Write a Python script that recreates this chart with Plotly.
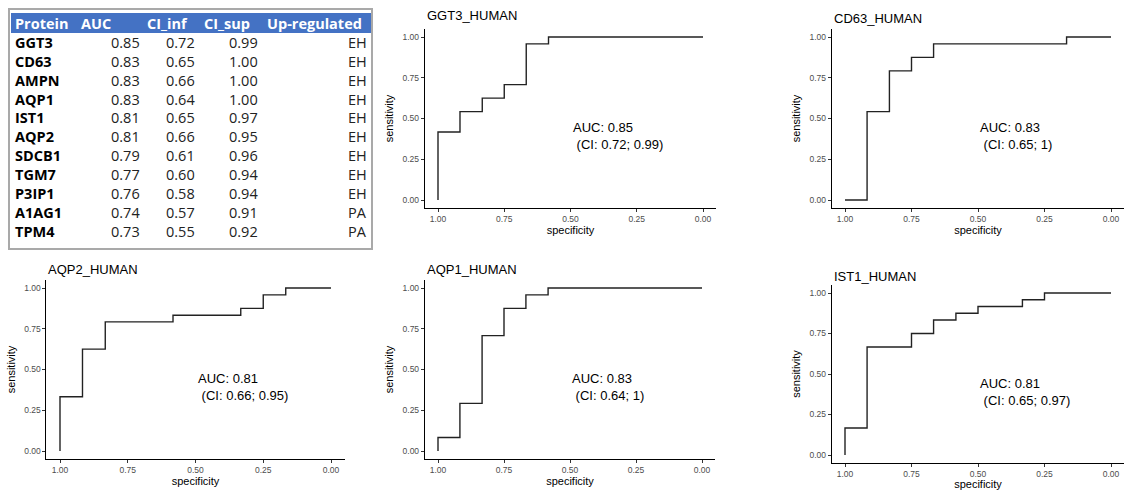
import plotly.graph_objects as go

W, H = 1128, 490

# ---------------- table data ----------------
tbl_header = ["Protein", "AUC", "CI_inf", "CI_sup", "Up-regulated"]
tbl_protein = ["GGT3", "CD63", "AMPN", "AQP1", "IST1", "AQP2", "SDCB1", "TGM7", "P3IP1", "A1AG1", "TPM4"]
tbl_auc = ["0.85", "0.83", "0.83", "0.83", "0.81", "0.81", "0.79", "0.77", "0.76", "0.74", "0.73"]
tbl_ci_inf = ["0.72", "0.65", "0.66", "0.64", "0.65", "0.66", "0.61", "0.60", "0.58", "0.57", "0.55"]
tbl_ci_sup = ["0.99", "1.00", "1.00", "1.00", "0.97", "0.95", "0.96", "0.94", "0.94", "0.91", "0.92"]
tbl_up = ["EH", "EH", "EH", "EH", "EH", "EH", "EH", "EH", "EH", "PA", "PA"]

# ---------------- ROC data (corner points, step 'hv') ----------------
ggt3_spec = [1.0, 1.0, 0.917, 0.833, 0.75, 0.667, 0.583, 0.0]
ggt3_sens = [0.0, 0.417, 0.542, 0.625, 0.708, 0.958, 1.0, 1.0]
cd63_spec = [1.0, 0.917, 0.833, 0.75, 0.667, 0.167, 0.0]
cd63_sens = [0.0, 0.542, 0.792, 0.875, 0.958, 1.0, 1.0]
aqp2_spec = [1.0, 1.0, 0.917, 0.833, 0.583, 0.333, 0.25, 0.167, 0.0]
aqp2_sens = [0.0, 0.333, 0.625, 0.792, 0.833, 0.875, 0.958, 1.0, 1.0]
aqp1_spec = [1.0, 1.0, 0.917, 0.833, 0.75, 0.667, 0.583, 0.0]
aqp1_sens = [0.0, 0.083, 0.292, 0.708, 0.875, 0.958, 1.0, 1.0]
ist1_spec = [1.0, 1.0, 0.917, 0.75, 0.667, 0.583, 0.5, 0.333, 0.25, 0.0]
ist1_sens = [0.0, 0.167, 0.667, 0.75, 0.833, 0.875, 0.917, 0.958, 1.0, 1.0]

panel_names = ["GGT3_HUMAN", "CD63_HUMAN", "AQP2_HUMAN", "AQP1_HUMAN", "IST1_HUMAN"]
panel_auc = ["0.85", "0.83", "0.81", "0.83", "0.81"]
panel_ci = ["0.72; 0.99", "0.65; 1", "0.66; 0.95", "0.64; 1", "0.65; 0.97"]
tick_vals = [0.0, 0.25, 0.5, 0.75, 1.0]
tick_text = ["0.00", "0.25", "0.50", "0.75", "1.00"]

specs = [ggt3_spec, cd63_spec, aqp2_spec, aqp1_spec, ist1_spec]
senss = [ggt3_sens, cd63_sens, aqp2_sens, aqp1_sens, ist1_sens]

# pixel geometry: (x at spec=1, x at spec=0, y at sens=1, y at sens=0, title y)
geom = [
    (438, 703, 37, 200, 15),
    (845, 1111, 37, 200, 18),
    (60, 331, 288, 451, 269),
    (438, 702, 288, 451, 269),
    (845, 1111, 293, 455, 276),
]


def px(x):
    return x / W


def py(y):
    return 1 - y / H


fig = go.Figure()
layout = dict(
    width=W, height=H,
    margin=dict(l=0, r=0, t=0, b=0),
    paper_bgcolor="white", plot_bgcolor="white",
    showlegend=False,
    font=dict(family="Liberation Sans, Arial, sans-serif", color="#000000"),
)
annotations = []
shapes = []

for i, (xs, ys) in enumerate(zip(specs, senss)):
    n = i + 1
    sfx = "" if n == 1 else str(n)
    x1, x0, y1, y0, ty = geom[i]
    dx = (x0 - x1) * 0.05
    dy = (y0 - y1) * 0.05
    fig.add_trace(go.Scatter(
        x=xs, y=ys, mode="lines", line=dict(color="#222222", width=1.4, shape="hv"),
        xaxis="x" + sfx, yaxis="y" + sfx, hoverinfo="skip"))
    common = dict(
        showgrid=False, zeroline=False, showline=True, linecolor="#000000", linewidth=1,
        ticks="outside", ticklen=3, tickcolor="#333333", tickwidth=1,
        tickvals=tick_vals, ticktext=tick_text,
        tickfont=dict(size=8.5, color="#4d4d4d", family="Liberation Sans, Arial, sans-serif"),
    )
    layout["xaxis" + sfx] = dict(
        common, domain=[px(x1 - dx), px(x0 + dx)], range=[1.05, -0.05],
        anchor="y" + sfx,
        title=dict(text="specificity", font=dict(size=11, color="#000000"), standoff=1),
    )
    layout["yaxis" + sfx] = dict(
        common, domain=[py(y0 + dy), py(y1 - dy)], range=[-0.05, 1.05],
        anchor="x" + sfx,
        title=dict(text="sensitivity", font=dict(size=11, color="#000000"), standoff=6),
    )
    annotations.append(dict(
        x=px(x1 - dx), y=py(ty), xref="paper", yref="paper", xanchor="left", yanchor="middle",
        text=panel_names[i], showarrow=False, font=dict(size=13, color="#000000")))
    annotations.append(dict(
        x=0.5, y=0.39, xref="x" + sfx, yref="y" + sfx, xanchor="left", yanchor="middle",
        align="left", text="AUC: " + panel_auc[i] + "<br> (CI: " + panel_ci[i] + ")",
        showarrow=False, font=dict(size=13, color="#000000")))

# ---------------- table drawing ----------------
shapes.append(dict(type="rect", xref="paper", yref="paper", x0=px(9), x1=px(372), y0=py(249), y1=py(9),
                   line=dict(color="#a9a9a9", width=2), fillcolor="white", layer="below"))
shapes.append(dict(type="rect", xref="paper", yref="paper", x0=px(11), x1=px(371), y0=py(33), y1=py(13),
                   line=dict(width=0), fillcolor="#4472C4", layer="below"))

tfont = "Open Sans, Noto Sans, sans-serif"
hdr_x = [13, 79, 145, 202, 265]
for h, hx in zip(tbl_header, hdr_x):
    annotations.append(dict(x=px(hx), y=py(23), xref="paper", yref="paper", xanchor="left", yanchor="middle",
                            text="<b>" + h + "</b>", showarrow=False,
                            font=dict(size=14.5, color="white", family=tfont)))

row0, step = 42.5, 18.85
for r in range(len(tbl_protein)):
    yy = py(row0 + r * step)
    annotations.append(dict(x=px(13), y=yy, xref="paper", yref="paper", xanchor="left", yanchor="middle",
                            text="<b>" + tbl_protein[r] + "</b>", showarrow=False,
                            font=dict(size=14.5, color="#000000", family=tfont)))
    for col, cx in ((tbl_auc, 142), (tbl_ci_inf, 197), (tbl_ci_sup, 260), (tbl_up, 369)):
        annotations.append(dict(x=px(cx), y=yy, xref="paper", yref="paper", xanchor="right", yanchor="middle",
                                text=col[r], showarrow=False,
                                font=dict(size=14.5, color="#222222", family=tfont)))

layout["annotations"] = annotations
layout["shapes"] = shapes
fig.update_layout(**layout)
fig.write_html("out.html", config={"displayModeBar": False},
               post_script="document.body.style.margin='0';document.body.style.overflow='hidden';")
